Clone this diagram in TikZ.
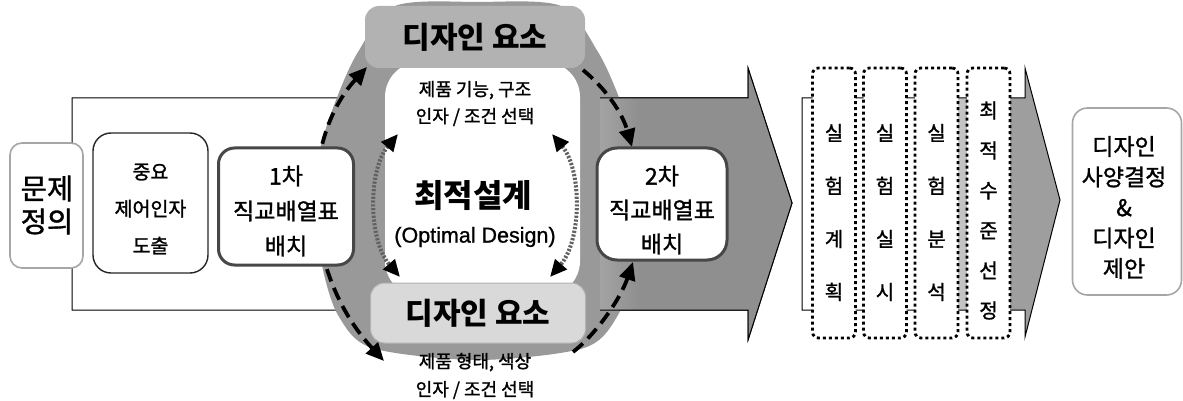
\documentclass[tikz,border=0pt]{standalone}
\usepackage{fontspec}
\setmainfont{Noto Sans CJK KR}
\newfontfamily\kr[FakeBold=1.3]{Noto Sans CJK KR}
\newfontfamily\latfont[FakeBold=1]{Liberation Sans}
\usetikzlibrary{arrows.meta}
\newcommand{\fsz}[2]{\fontsize{#1}{#2}\selectfont}
\pgfdeclareradialshading{ringshade}{\pgfpoint{0bp}{0bp}}{color(0bp)=(black!40); color(30bp)=(black!40); color(40bp)=(black!30); color(46bp)=(black!14)}
\tikzset{
  lbl/.style={inner sep=0pt, align=center, text=black},
  softbox/.style={draw=black!35, line width=1.6pt, rounded corners=12pt, fill=white, inner sep=0pt},
  plainbox/.style={draw=black!85, line width=1.4pt, rounded corners=18pt, fill=white, inner sep=0pt},
  heavybox/.style={draw=black!72, line width=3pt, rounded corners=16pt, fill=white, inner sep=0pt},
  dotbox/.style={draw=black, line width=2.8pt, dash pattern=on 3pt off 3pt, rounded corners=6pt, fill=white, inner sep=0pt, minimum width=43pt, minimum height=270pt},
  grayband/.style={inner sep=0pt, rounded corners=14pt},
  dasharc/.style={line width=3.8pt, dash pattern=on 13pt off 7pt},
  dotarc/.style={draw=black!62, line width=4pt, dash pattern=on 2.2pt off 1.6pt},
  outline/.style={draw=black, line width=1pt},
}
\begin{document}
\begin{tikzpicture}[x=1pt,y=-1pt]
\useasboundingbox (0,0) rectangle (1183,401);
% main arrow body
\draw[outline, fill=white] (72,98) -- (748,98) -- (748,68) -- (792,203) -- (748,340) -- (748,310) -- (72,310) -- cycle;
% grey ring
\shade[shading=ringshade] plot[smooth cycle] coordinates {(478,2) (395,6) (358,52) (336,100) (320,150) (316,205) (322,265) (338,315) (372,348) (478,360) (584,348) (618,315) (634,265) (640,205) (636,150) (620,100) (598,52) (561,6)};
\begin{scope}
  \clip (72,98) -- (748,98) -- (748,68) -- (792,203) -- (748,340) -- (748,310) -- (72,310) -- cycle;
  \shade[left color=black!36, right color=black!44] (600,60) rectangle (640,350);
  \fill[black!44] (640,60) rectangle (800,350);
\end{scope}
\draw[outline] (600,98) -- (748,98) -- (748,68) -- (792,203) -- (748,340) -- (748,310) -- (600,310);
% white centre
\fill[white, rounded corners=35pt] (385,62) rectangle (580,296);
% design element bands
\node[grayband, fill=black!30, minimum width=220pt, minimum height=62pt, font=\fsz{30}{30}\bfseries] (dtop) at (475,37) {디자인 요소};
\node[grayband, fill=black!15, draw=black!30, line width=1pt, minimum width=215pt, minimum height=60pt, font=\fsz{30}{30}\bfseries] (dbot) at (478,313) {디자인 요소};
% centre texts
\node[lbl, font=\fsz{18}{27}\kr] (ttop) at (475,103.5) {제품 기능, 구조\\인자 / 조건 선택};
\node[lbl, font=\fsz{32}{32}\bfseries] (opt) at (473,196) {최적설계};
\node[lbl, font=\fsz{21.5}{21.5}\latfont] (optE) at (475,237) {(Optimal Design)};
\node[lbl, font=\fsz{18}{28}\kr] (tbot) at (475,376) {제품 형태, 색상\\인자 / 조건 선택};
% arrow end coordinates
\coordinate (lt) at (367,67);
\coordinate (lb) at (384,361);
\coordinate (ilt) at (398,134);
\coordinate (ilb) at (400,277);
\coordinate (irt) at (552,134);
\coordinate (irb) at (550,277);
\coordinate (rts) at (583,70);
\coordinate (rte) at (632,147);
\coordinate (rbs) at (573,352);
\coordinate (rbe) at (633,262);
% outer dashed arcs
\draw[dasharc, {Triangle[length=18pt,width=16pt]}-{Triangle[length=18pt,width=16pt]}] (lt) .. controls (300,140) and (300,270) .. (lb);
\draw[dasharc, -{Triangle[length=18pt,width=16pt]}] (rts) .. controls (605,88) and (622,112) .. (rte);
\draw[dasharc, -{Triangle[length=18pt,width=16pt]}] (rbs) .. controls (595,335) and (620,300) .. (rbe);
% inner dotted arcs
\draw[dotarc, {Triangle[length=17pt,width=15pt,color=black]}-{Triangle[length=17pt,width=15pt,color=black]}] (ilt) .. controls (368,170) and (368,240) .. (ilb);
\draw[dotarc, {Triangle[length=17pt,width=15pt,color=black]}-{Triangle[length=17pt,width=15pt,color=black]}] (irt) .. controls (582,170) and (582,240) .. (irb);
% left boxes
\node[softbox, minimum width=73pt, minimum height=125pt] (prob) at (46.5,205.5) {};
\node[lbl, font=\fsz{28.5}{33}\kr] at (47,205) {문제\\정의};
\node[plainbox, minimum width=115pt, minimum height=140pt] (imp) at (150.5,203) {};
\node[lbl, font=\fsz{19.5}{37}\kr] at (150.5,209) {중요\\제어인자\\도출};
\node[heavybox, minimum width=135pt, minimum height=117pt] (first) at (286,206.5) {};
\node[lbl, font=\fsz{23}{35}\kr] at (286,211) {1차\\직교배열표\\배치};
\node[heavybox, minimum width=130pt, minimum height=112pt, rounded corners=20pt] (second) at (662,204) {};
\node[lbl, font=\fsz{23}{34}\kr] at (662,210) {2차\\직교배열표\\배치};
% right arrow
\draw[outline, fill=white, path picture={\shade[left color=white, right color=black!38] (930,60) rectangle (1010,345); \fill[black!38] (1010,60) rectangle (1070,345);}] (802,98) -- (1025,98) -- (1025,68) -- (1060,200) -- (1025,337) -- (1025,310) -- (802,310) -- cycle;
% dotted step boxes
\node[dotbox] (s1) at (834,203) {};
\node[dotbox] (s2) at (885,203) {};
\node[dotbox] (s3) at (936.5,203) {};
\node[dotbox] (s4) at (988.5,203) {};
\node[lbl, font=\fsz{20}{53}\kr] at (834,212.5) {실\\험\\계\\획};
\node[lbl, font=\fsz{20}{53}\kr] at (885,212.5) {실\\험\\실\\시};
\node[lbl, font=\fsz{20}{53}\kr] at (936.5,212.5) {실\\험\\분\\석};
\node[lbl, font=\fsz{20}{40}\kr] at (988.5,210.5) {최\\적\\수\\준\\선\\정};
% final box
\node[softbox, minimum width=109pt, minimum height=187pt, rounded corners=15pt] (final) at (1127,201.5) {};
\node[lbl, font=\fsz{23}{30.5}\kr] at (1124,207.5) {디자인\\사양결정\\\&\\디자인\\제안};
\end{tikzpicture}
\end{document}
